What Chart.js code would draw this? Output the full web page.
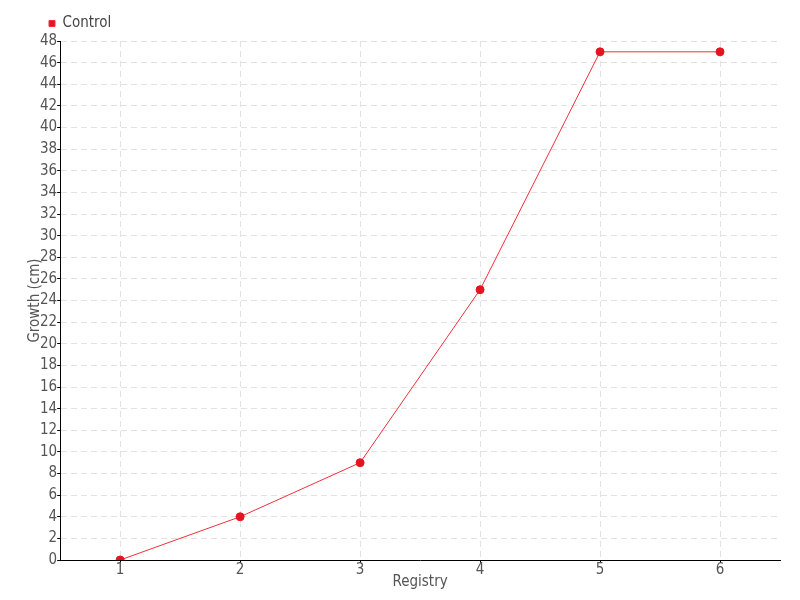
<!DOCTYPE html>
<html><head><meta charset="utf-8">
<script src="https://cdn.jsdelivr.net/npm/chart.js@4"></script>
<style>html,body{margin:0;padding:0;background:#fff}#c{width:800px;height:600px}</style>
</head><body><div id="c"><canvas id="cv" width="800" height="600"></canvas></div>
<script>
const categories = ['1','2','3','4','5','6'];
const controlValues = [0, 4, 9, 25, 47, 47];
const seriesName = 'Control';
const yTitle = 'Growth (cm)';
const xTitle = 'Registry';
const FONT = '"DejaVu Sans Condensed", "Liberation Sans Narrow", sans-serif';
Chart.defaults.font.family = FONT;
Chart.defaults.color = '#555';
const shiftLegend = {
  id: 'shiftLegend',
  afterLayout(chart) {
    const lg = chart.legend;
    const dx = 39 - lg.left;
    lg.left += dx; lg.right += dx;
  }
};
new Chart(document.getElementById('cv'), {
  type: 'line',
  data: { labels: categories, datasets: [{
    label: seriesName, data: controlValues,
    borderColor: '#f0303c', borderWidth: 1,
    backgroundColor: '#e5141f', pointBackgroundColor: '#e5141f', pointBorderColor: '#e5141f',
    pointRadius: 4, pointHoverRadius: 4, tension: 0
  }]},
  options: {
    responsive: false, animation: false,
    layout: { padding: { left: 26, right: 20, top: 6, bottom: 10 } },
    plugins: {
      legend: { position: 'top', align: 'start',
        labels: { boxWidth: 6, boxHeight: 6, padding: 10, font: { size: 15 }, color: '#444' } },
      tooltip: { enabled: false }
    },
    scales: {
      x: { offset: true,
        grid: { offset: false, color: '#e2e2e2', tickColor: '#000', tickLength: 3 },
        border: { color: '#000', width: 1, dash: [6,4] },
        ticks: { font: { size: 15, lineHeight: 1 }, color: '#555', padding: 0 },
        title: { display: true, text: xTitle, font: { size: 15, lineHeight: 1 }, color: '#555', padding: { top: -3, bottom: 0 } }
      },
      y: { min: 0, max: 48,
        grid: { color: '#e2e2e2', tickColor: '#000', tickLength: 3 },
        border: { color: '#000', width: 1, dash: [6,4] },
        ticks: { stepSize: 2, font: { size: 15 }, color: '#555', padding: 0 },
        title: { display: true, text: yTitle, font: { size: 15 }, color: '#555', padding: { top: 0, bottom: -4 } }
      }
    }
  },
  plugins: [shiftLegend]
});
</script></body></html>
